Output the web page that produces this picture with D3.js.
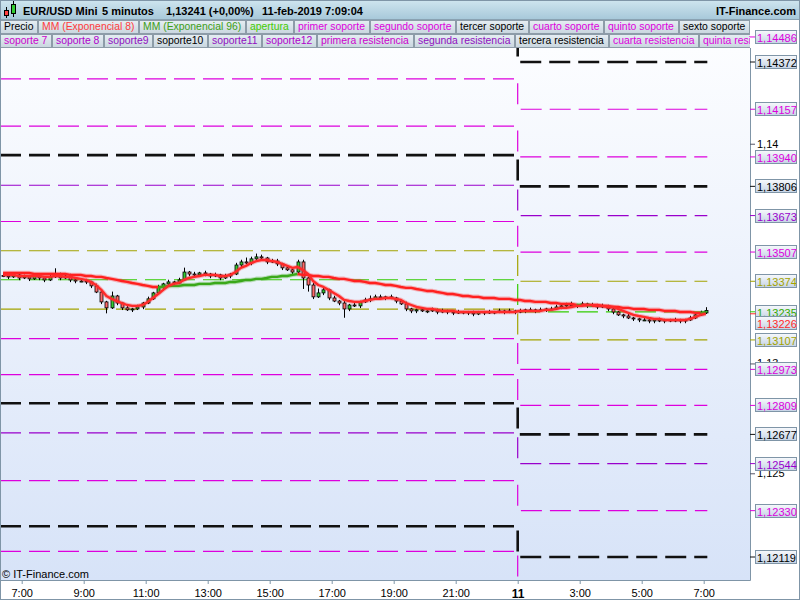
<!DOCTYPE html>
<html><head><meta charset="utf-8">
<script src="https://cdn.jsdelivr.net/npm/d3@7"></script>
<style>body{margin:0;background:#fff}svg{display:block}text{font-family:"Liberation Sans",Arial,sans-serif}</style>
</head><body><svg id="c" width="800" height="600"></svg>
<script>
// ---------- DATA ----------
const firstOpen = 1.13400;
const closes = [
1.13398,1.13394,1.13403,1.13389,1.13394,1.13385,1.13398,1.13389,1.13380,1.13394,
1.13403,1.13389,1.13398,1.13380,1.13375,1.13375,1.13371,1.13353,1.13325,1.13280,
1.13253,1.13307,1.13275,1.13253,1.13244,1.13248,1.13257,1.13275,1.13294,1.13321,
1.13348,1.13362,1.13371,1.13366,1.13380,1.13416,1.13407,1.13403,1.13412,1.13407,
1.13398,1.13403,1.13389,1.13398,1.13407,1.13448,1.13462,1.13457,1.13476,1.13485,
1.13480,1.13462,1.13466,1.13453,1.13435,1.13426,1.13416,1.13462,1.13389,1.13357,
1.13303,1.13321,1.13335,1.13298,1.13284,1.13275,1.13248,1.13266,1.13262,1.13280,
1.13289,1.13294,1.13303,1.13298,1.13303,1.13298,1.13284,1.13271,1.13248,1.13239,
1.13244,1.13239,1.13239,1.13244,1.13234,1.13239,1.13234,1.13230,1.13234,1.13234,
1.13230,1.13225,1.13234,1.13230,1.13234,1.13234,1.13239,1.13234,1.13239,1.13234,
1.13239,1.13244,1.13239,1.13244,1.13244,1.13248,1.13248,1.13257,1.13262,1.13266,
1.13262,1.13266,1.13271,1.13262,1.13266,1.13257,1.13262,1.13248,1.13234,1.13221,
1.13216,1.13207,1.13203,1.13198,1.13198,1.13193,1.13198,1.13193,1.13198,1.13193,
1.13198,1.13193,1.13198,1.13207,1.13221,1.13230,1.13241];
// wick lengths beyond the body, in pips
const wickHi = [
1,0.5,1,0.5,1,0.5,1,0.5,0.5,1, 3,1,0.5,1,0.5,0.5,1,0.5,1,0.5,
0.5,2,0.5,0.5,1,0.5,1,0.5,1,0.5, 1,0.5,1,0.5,1,2,0.5,1,0.5,1,
0.5,1,0.5,1,0.5,1,1,2,1,1.5, 1,0.5,1,1,0.5,1,0.5,1,1,0.5,
1,2,1,0.5,1,0.5,1,0.5,1,0.5, 1,1.5,1,1,0.5,1,0.5,0.5,1,0.5,
0.5,1,0.5,1,0.5,1,0.5,0.5,1,0.5, 0.5,1,0.5,0.5,1,0.5,1,0.5,1,0.5,
1,0.5,1,0.5,1,0.5,1,1,0.5,1, 1.5,0.5,1,0.5,1,0.5,1,0.5,0.5,0.5,
0.5,1,0.5,0.5,1,0.5,0.5,1,0.5,0.5, 1,0.5,0.5,1,0.5,1,1.5];
const wickLo = [
0.5,1,0.5,1,0.5,1,0.5,1,1,0.5, 0.5,1,0.5,1,1,0.5,1,1,0.5,1,
2.5,0.5,1,1,0.5,1,0.5,1,0.5,0.5, 0.5,1,0.5,1,0.5,0.5,1,1,0.5,1,
1,0.5,1,0.5,1,0.5,1,0.5,1,0.5, 0.5,1,0.5,1,1,0.5,1,0.5,5,3,
1,0.5,1,1,0.5,1,4,1,0.5,1, 0.5,1,0.5,0.5,1,0.5,1,0.5,1,1,
1,0.5,1,0.5,1,0.5,1,1,0.5,1, 1,1,0.5,1,0.5,1,0.5,1,0.5,1,
0.5,1,0.5,1,0.5,1,0.5,0.5,1,0.5, 0.5,1,0.5,1,0.5,1,0.5,1,1,0.5,
1,0.5,1,1,0.5,1,1,0.5,1,0.5, 0.5,1,1,0.5,0.5,0.5,0.5];
const ema8 = [
1.13403,1.13403,1.13403,1.13398,1.13398,1.13398,1.13398,1.13398,1.13394,1.13394,
1.13398,1.13398,1.13394,1.13394,1.13389,1.13385,1.13380,1.13371,1.13357,1.13335,
1.13307,1.13294,1.13284,1.13275,1.13266,1.13262,1.13262,1.13266,1.13280,1.13298,
1.13316,1.13335,1.13353,1.13362,1.13366,1.13380,1.13389,1.13394,1.13398,1.13403,
1.13403,1.13403,1.13398,1.13398,1.13403,1.13416,1.13435,1.13444,1.13457,1.13466,
1.13471,1.13471,1.13466,1.13462,1.13453,1.13444,1.13435,1.13439,1.13426,1.13407,
1.13375,1.13357,1.13348,1.13335,1.13321,1.13307,1.13289,1.13284,1.13280,1.13280,
1.13284,1.13289,1.13294,1.13294,1.13298,1.13298,1.13294,1.13289,1.13275,1.13266,
1.13257,1.13253,1.13248,1.13248,1.13244,1.13239,1.13239,1.13239,1.13234,1.13234,
1.13234,1.13234,1.13234,1.13234,1.13234,1.13234,1.13234,1.13234,1.13234,1.13234,
1.13239,1.13239,1.13239,1.13239,1.13239,1.13244,1.13244,1.13248,1.13253,1.13253,
1.13257,1.13262,1.13262,1.13266,1.13266,1.13266,1.13262,1.13262,1.13257,1.13248,
1.13239,1.13230,1.13221,1.13216,1.13212,1.13207,1.13203,1.13203,1.13198,1.13198,
1.13198,1.13198,1.13198,1.13203,1.13212,1.13221,1.13226];
const ema96 = [
1.13412,1.13412,1.13412,1.13412,1.13412,1.13412,1.13407,1.13407,1.13407,1.13407,
1.13407,1.13407,1.13407,1.13403,1.13403,1.13403,1.13398,1.13398,1.13394,1.13394,
1.13389,1.13385,1.13380,1.13375,1.13371,1.13366,1.13362,1.13357,1.13353,1.13348,
1.13348,1.13348,1.13353,1.13353,1.13353,1.13357,1.13357,1.13357,1.13362,1.13362,
1.13362,1.13366,1.13366,1.13366,1.13371,1.13371,1.13375,1.13380,1.13380,1.13385,
1.13385,1.13389,1.13394,1.13394,1.13398,1.13398,1.13403,1.13407,1.13403,1.13403,
1.13398,1.13398,1.13394,1.13394,1.13389,1.13385,1.13385,1.13380,1.13375,1.13375,
1.13371,1.13366,1.13366,1.13362,1.13357,1.13357,1.13353,1.13348,1.13344,1.13344,
1.13339,1.13335,1.13330,1.13330,1.13325,1.13321,1.13316,1.13316,1.13312,1.13307,
1.13307,1.13303,1.13303,1.13298,1.13298,1.13298,1.13294,1.13294,1.13294,1.13289,
1.13289,1.13284,1.13284,1.13280,1.13280,1.13280,1.13275,1.13275,1.13271,1.13271,
1.13271,1.13266,1.13266,1.13266,1.13262,1.13262,1.13262,1.13257,1.13257,1.13257,
1.13253,1.13253,1.13248,1.13248,1.13248,1.13244,1.13244,1.13244,1.13239,1.13239,
1.13239,1.13234,1.13234,1.13234,1.13230,1.13230,1.13230];

// support / resistance levels: previous session and current session
const levelColorKeys = ["magenta","black","magenta","magenta","black","purple","magenta","olive","lime","olive","magenta","magenta","black","purple","magenta","black","magenta"];
const levelPrev  = [1.14626,1.14512,1.14295,1.14080,1.13948,1.13811,1.13646,1.13513,1.13381,1.13247,1.13113,1.12949,1.12819,1.12684,1.12467,1.12259,1.12145];
const levelToday = [1.14486,1.14372,1.14157,1.13940,1.13806,1.13673,1.13507,1.13374,1.13235,1.13107,1.12973,1.12809,1.12677,1.12544,1.12330,1.12119,1.12005];

const xTickHours  = [7,9,11,13,15,17,19,21,23,25,27,29];
const xTickLabels = ["7:00","9:00","11:00","13:00","15:00","17:00","19:00","21:00","11","3:00","5:00","7:00"];
const yTickValues = [1.125,1.13,1.14];

const legendRow1 = ["Precio","MM (Exponencial 8)","MM (Exponencial 96)","apertura","primer soporte","segundo soporte","tercer soporte","cuarto soporte","quinto soporte","sexto soporte"];
const legendRow1Colors = ["#000","#ff3b3b","#3d9e16","#44cc00","#dd00dd","#dd00dd","#000","#dd00dd","#dd00dd","#000"];
const legendRow2 = ["soporte 7","soporte 8","soporte9","soporte10","soporte11","soporte12","primera resistencia","segunda resistencia","tercera resistencia","cuarta resistencia","quinta resistencia"];
const legendRow2Colors = ["#cc00cc","#b000cc","#9010c0","#000","#9010c0","#b000cc","#cc00cc","#9010c0","#000","#dd00dd","#dd00dd"];

const headerParts = ["EUR/USD Mini","5 minutos","1,13241 (+0,00%)","11-feb-2019 7:09:04"];
const sessionBreakHour = 23;
const barStartHour = 6.4, barStepHour = 1/6;

// ---------- DRAW ----------
const colorMap = {magenta:"#dd00dd",purple:"#9900cc",black:"#111111",olive:"#a3a300",lime:"#33cc00"};
const svg = d3.select("#c");
const defs = svg.append("defs");
function vgrad(id, stops){
  const g = defs.append("linearGradient").attr("id",id).attr("x1",0).attr("y1",0).attr("x2",0).attr("y2",1);
  stops.forEach(([o,c])=>g.append("stop").attr("offset",o).attr("stop-color",c));
}
vgrad("bgPlot",[[0,"#fcfdff"],[1,"#d7e3f8"]]);
vgrad("bgHead",[[0,"#cfe5ef"],[1,"#a8c9da"]]);
vgrad("bgLeg",[[0,"#e6eef3"],[1,"#c9d6df"]]);
vgrad("bgBox",[[0,"#f7f9fc"],[1,"#c5d3e5"]]);
const PL=0, PR=750, PT=48, PB=580;
defs.append("clipPath").attr("id","clip").append("rect").attr("x",PL).attr("y",PT).attr("width",PR-PL).attr("height",PB-PT);
defs.append("clipPath").attr("id","legClip").append("rect").attr("x",0).attr("y",0).attr("width",750).attr("height",48);

svg.append("rect").attr("width",800).attr("height",600).attr("fill","#fff");
svg.append("rect").attr("x",PL).attr("y",PT).attr("width",PR-PL).attr("height",PB-PT).attr("fill","url(#bgPlot)");

const x = d3.scaleLinear().domain([6.3, 6.3 + 750/31]).range([PL, PR]);
const y = d3.scaleLinear().domain([levelToday[15], levelToday[1]]).range([557, 62]);

const hours = closes.map((_,i)=>barStartHour + i*barStepHour);
const lastHour = hours[hours.length-1];
const plot = svg.append("g").attr("clip-path","url(#clip)");

// levels
const lvLine = d3.line().x(d=>x(d.h)).y(d=>y(d.v));
levelColorKeys.forEach((k,i)=>{
  const pts = [{h:x.domain()[0],v:levelPrev[i]},{h:sessionBreakHour,v:levelPrev[i]},{h:sessionBreakHour,v:levelToday[i]},{h:lastHour+0.05,v:levelToday[i]}];
  plot.append("path").attr("d",lvLine(pts)).attr("fill","none")
    .attr("stroke",colorMap[k]).attr("stroke-width",k==="black"?2.6:1.2)
    .attr("stroke-dasharray","21,8");
});

// candles
const bars = closes.map((c,i)=>{
  const o = i ? closes[i-1] : firstOpen;
  return {h:hours[i], o, c, hi:Math.max(o,c)+wickHi[i]*1e-4, lo:Math.min(o,c)-wickLo[i]*1e-4};
});
const cg = plot.append("g");
bars.forEach(b=>{
  const cx = Math.round(x(b.h))+0.5;
  cg.append("line").attr("x1",cx).attr("x2",cx).attr("y1",y(b.hi)).attr("y2",y(b.lo)).attr("stroke","#000").attr("stroke-width",1);
  const y1 = y(Math.max(b.o,b.c)), y2 = y(Math.min(b.o,b.c));
  cg.append("rect").attr("x",cx-1.5).attr("y",y1).attr("width",3).attr("height",Math.max(1,y2-y1))
    .attr("fill",b.c>=b.o?"#33cc33":"#ff6a6a").attr("stroke","#000").attr("stroke-width",0.8);
});

// EMA 96 coloured by trend
const emaLine = d3.line().x(i=>x(hours[i])).y(i=>y(ema96[i]));
const segs=[]; let cur=null;
ema96.forEach((v,i)=>{
  const col = closes[i] > v ? "green" : "red";
  if(!cur || cur.col!==col){ cur={col,pts:i?[i-1]:[]}; segs.push(cur); }
  cur.pts.push(i);
});
segs.forEach(s=>{
  const c = s.col==="green" ? "#3aa81a" : "#ff2020";
  plot.append("path").attr("d",emaLine(s.pts)).attr("fill","none").attr("stroke",c).attr("stroke-opacity",0.3).attr("stroke-width",4.5).attr("stroke-linejoin","round");
  plot.append("path").attr("d",emaLine(s.pts)).attr("fill","none").attr("stroke",c).attr("stroke-width",2.4).attr("stroke-linejoin","round");
});
// EMA 8
const ema8Line = d3.line().x((d,i)=>x(hours[i])).y(d=>y(d));
plot.append("path").attr("d",ema8Line(ema8)).attr("fill","none").attr("stroke","#ff3030").attr("stroke-opacity",0.3).attr("stroke-width",4.5).attr("stroke-linejoin","round");
plot.append("path").attr("d",ema8Line(ema8)).attr("fill","none").attr("stroke","#ff2a2a").attr("stroke-width",2.4).attr("stroke-linejoin","round");

// copyright
svg.append("text").attr("x",2).attr("y",578).text("© IT-Finance.com").style("font-size","11px").attr("fill","#000");

// borders
svg.append("line").attr("x1",PR+0.5).attr("x2",PR+0.5).attr("y1",PT).attr("y2",PB+0.5).attr("stroke","#7f95a7");
svg.append("line").attr("x1",0).attr("x2",PR+0.5).attr("y1",PB+0.5).attr("y2",PB+0.5).attr("stroke","#7f95a7");

// bottom axis
const xa = svg.append("g").attr("transform",`translate(0,${PB})`)
  .call(d3.axisBottom(x).tickValues(xTickHours).tickFormat((d,i)=>xTickLabels[i]).tickSize(4).tickPadding(5));
xa.select(".domain").remove();
xa.selectAll("line").attr("stroke","#7f95a7");
xa.selectAll("text").style("font-size","11px").attr("fill","#000")
  .filter(t=>xTickLabels[xTickHours.indexOf(t)]==="11").style("font-weight","bold").style("font-size","12px");

// right axis
const ya = svg.append("g").attr("transform",`translate(${PR},0)`)
  .call(d3.axisRight(y).tickValues(yTickValues).tickSize(5).tickPadding(2).tickFormat(d=>String(+d.toFixed(3)).replace(".",",")));
ya.select(".domain").remove();
ya.selectAll("line").attr("stroke","#556");
ya.selectAll("text").style("font-size","11px").attr("fill","#000");

// header
svg.append("rect").attr("x",0).attr("y",0).attr("width",800).attr("height",19).attr("fill","url(#bgHead)");
svg.append("line").attr("x1",0).attr("x2",800).attr("y1",19.5).attr("y2",19.5).attr("stroke","#8aa2b2");
const icon = svg.append("g");
icon.append("line").attr("x1",6.5).attr("x2",6.5).attr("y1",7).attr("y2",18).attr("stroke","#000");
icon.append("rect").attr("x",4.5).attr("y",10.5).attr("width",4).attr("height",5).attr("fill","#ff4040").attr("stroke","#000");
icon.append("line").attr("x1",13.5).attr("x2",13.5).attr("y1",1).attr("y2",17).attr("stroke","#000");
icon.append("rect").attr("x",11.5).attr("y",4.5).attr("width",4).attr("height",9).attr("fill","#33cc33").attr("stroke","#000");
const headerX = [23,102,166,262];
headerParts.forEach((t,i)=>svg.append("text").attr("x",headerX[i]).attr("y",15).text(t).style("font-size","11px").style("font-weight","bold").attr("fill","#000"));
svg.append("text").attr("x",796).attr("y",15).attr("text-anchor","end").text("IT-Finance.com").style("font-size","11px").style("font-weight","bold").attr("fill","#000");

// legend rows
function legendRow(names, colors, top){
  const g = svg.append("g").attr("clip-path","url(#legClip)");
  let xp = 0;
  names.forEach((nm,i)=>{
    const t = g.append("text").attr("x",xp+4).attr("y",top+10).text(nm).attr("fill",colors[i]).style("font-size","10.4px");
    const w = Math.round(t.node().getComputedTextLength()+8);
    g.insert("rect",":first-child").attr("x",xp+0.5).attr("y",top+0.5).attr("width",w).attr("height",13)
      .attr("fill","url(#bgLeg)").attr("stroke","#8d9ca8");
    xp += w + 1;
  });
}
legendRow(legendRow1, legendRow1Colors, 20);
legendRow(legendRow2, legendRow2Colors, 34);

// value boxes on the right axis
const boxes = levelToday.map((v,i)=>({v, color:colorMap[levelColorKeys[i]], off:0}))
  .filter(b=>y(b.v) < PB-10);
boxes.push({v:ema8[ema8.length-1], color:"#ff2a2a", off:9});
boxes.forEach(b=>{
  const yy = y(b.v);
  const txtCol = b.color==="#111111" ? "#000" : (b.color==="#33cc00" ? "#33aa00" : b.color);
  svg.append("line").attr("x1",PR).attr("x2",756).attr("y1",yy).attr("y2",yy).attr("stroke",b.color);
  svg.append("rect").attr("x",755.5).attr("y",Math.round(yy+b.off-7)+0.5).attr("width",41).attr("height",13)
    .attr("fill","url(#bgBox)").attr("stroke","#7f95a7");
  svg.append("text").attr("x",757).attr("y",Math.round(yy+b.off)+4.5).text(d3.format(".5f")(b.v).replace(".",","))
    .style("font-size","11px").attr("fill",txtCol);
});

// outer frame
svg.append("rect").attr("x",0.5).attr("y",0.5).attr("width",799).attr("height",599).attr("fill","none").attr("stroke","#7f95a7");
</script>
</body></html>
